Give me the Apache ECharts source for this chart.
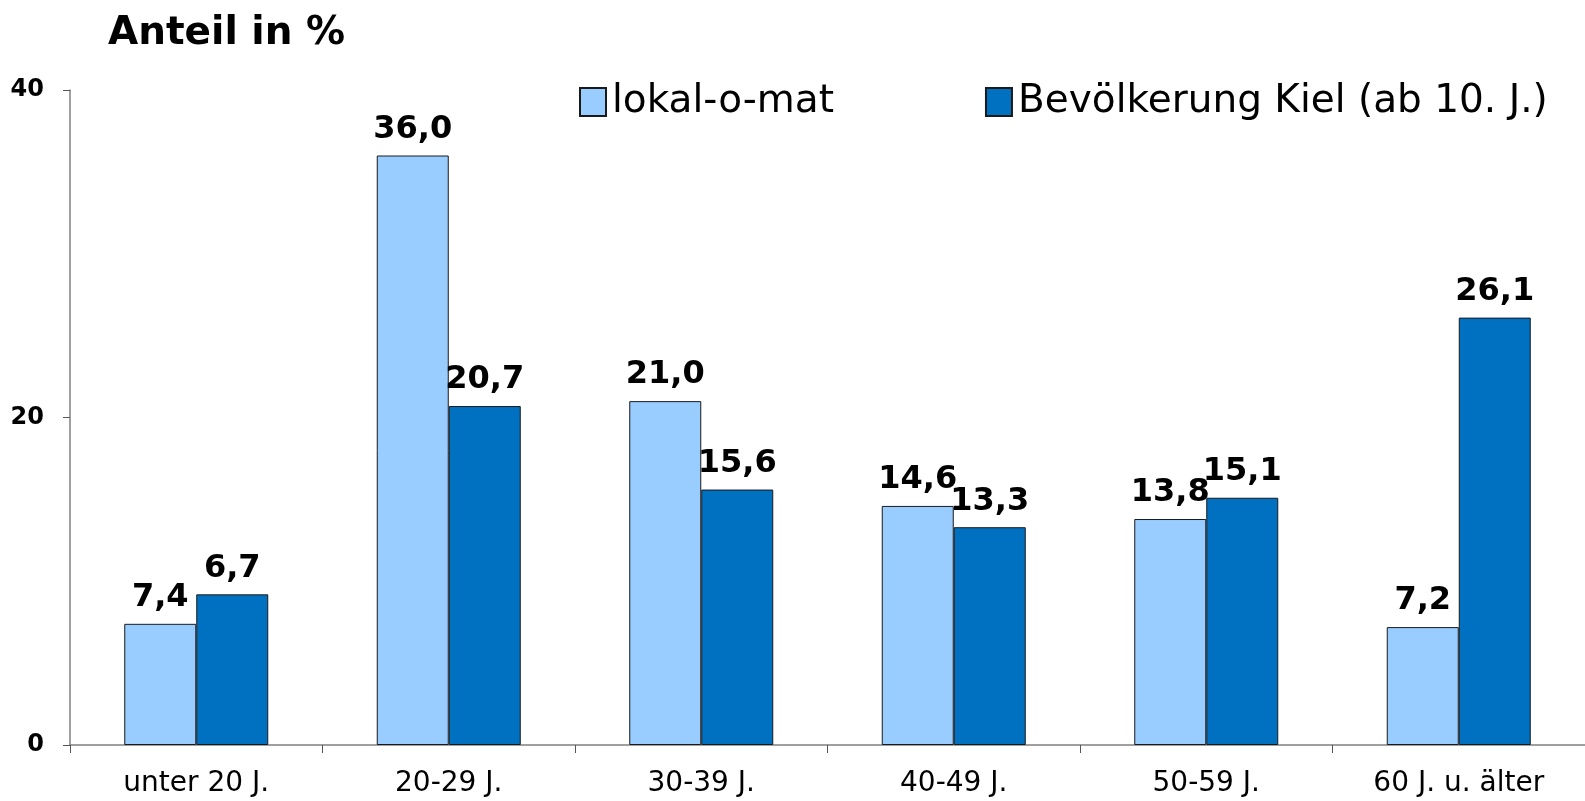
<!DOCTYPE html>
<html lang="de">
<head>
<meta charset="UTF-8">
<title>Anteil in %</title>
<script src="https://cdn.jsdelivr.net/npm/echarts@6/dist/echarts.min.js"></script>
<style>
  html, body { margin: 0; padding: 0; background: #fff; }
  #chart { width: 1585px; height: 801px; }
</style>
</head>
<body>
<div id="chart"></div>
<script>
// Altersgruppen
var categories = ['unter 20 J.', '20-29 J.', '30-39 J.', '40-49 J.', '50-59 J.', '60 J. u. älter'];
var yTicks = [0, 20, 40];
// Balkenhöhen wie im Bild gezeichnet
var lokalValues = [7.4, 36.0, 21.0, 14.6, 13.8, 7.2];
var kielValues = [9.2, 20.7, 15.6, 13.3, 15.1, 26.1];
// beschriftete Werte (erster Kiel-Balken ist höher gezeichnet als beschriftet)
var lokalLabels = [7.4, 36.0, 21.0, 14.6, 13.8, 7.2];
var kielLabels = [6.7, 20.7, 15.6, 13.3, 15.1, 26.1];

var font = 'DejaVu Sans';

function fmt(v) {
  return v.toFixed(1).replace('.', ',');
}

function barLabel(labels) {
  return {
    show: true,
    position: 'top',
    distance: 10,
    fontFamily: font,
    fontWeight: 'bold',
    fontSize: 32,
    lineHeight: 32,
    color: '#000',
    formatter: function (p) { return fmt(labels[p.dataIndex]); }
  };
}

var chart = echarts.init(document.getElementById('chart'));
var option = {
  animation: false,
  title: {
    text: 'Anteil in %',
    left: 103,
    top: 9,
    textStyle: { fontFamily: font, fontWeight: 'bold', fontSize: 39, lineHeight: 39, color: '#000' }
  },
  legend: {
    left: 574,
    top: 77,
    itemWidth: 26,
    itemHeight: 28,
    itemGap: 151,
    icon: 'rect',
    textStyle: { fontFamily: font, fontSize: 39, lineHeight: 40, color: '#000', padding: [0, 0, 0, 1] },
    data: ['lokal-o-mat', 'Bevölkerung Kiel (ab 10. J.)']
  },
  grid: { left: 70, right: 0, top: 90, bottom: 56, containLabel: false },
  xAxis: {
    type: 'category',
    data: categories,
    axisLine: { lineStyle: { color: '#808080', width: 1.5 } },
    axisTick: { show: true, length: 8, lineStyle: { color: '#555' } },
    axisLabel: { fontFamily: font, fontSize: 28, lineHeight: 28, color: '#000', margin: 25 }
  },
  yAxis: {
    type: 'value',
    min: yTicks[0],
    max: yTicks[yTicks.length - 1],
    interval: yTicks[1] - yTicks[0],
    axisLine: { show: true, lineStyle: { color: '#808080', width: 1.5 } },
    axisTick: { show: true, length: 7, lineStyle: { color: '#555' } },
    splitLine: { show: false },
    axisLabel: { fontFamily: font, fontWeight: 'bold', fontSize: 24, color: '#000', margin: 26 }
  },
  series: [
    {
      name: 'lokal-o-mat',
      type: 'bar',
      barWidth: 72,
      barGap: 0,
      itemStyle: { color: '#99CCFF', borderColor: '#1a1a1a', borderWidth: 1 },
      label: barLabel(lokalLabels),
      data: lokalValues
    },
    {
      name: 'Bevölkerung Kiel (ab 10. J.)',
      type: 'bar',
      barWidth: 72,
      barGap: 0,
      itemStyle: { color: '#0070C0', borderColor: '#1a1a1a', borderWidth: 1 },
      label: barLabel(kielLabels),
      data: kielValues
    }
  ]
};
chart.setOption(option);
</script>
</body>
</html>
